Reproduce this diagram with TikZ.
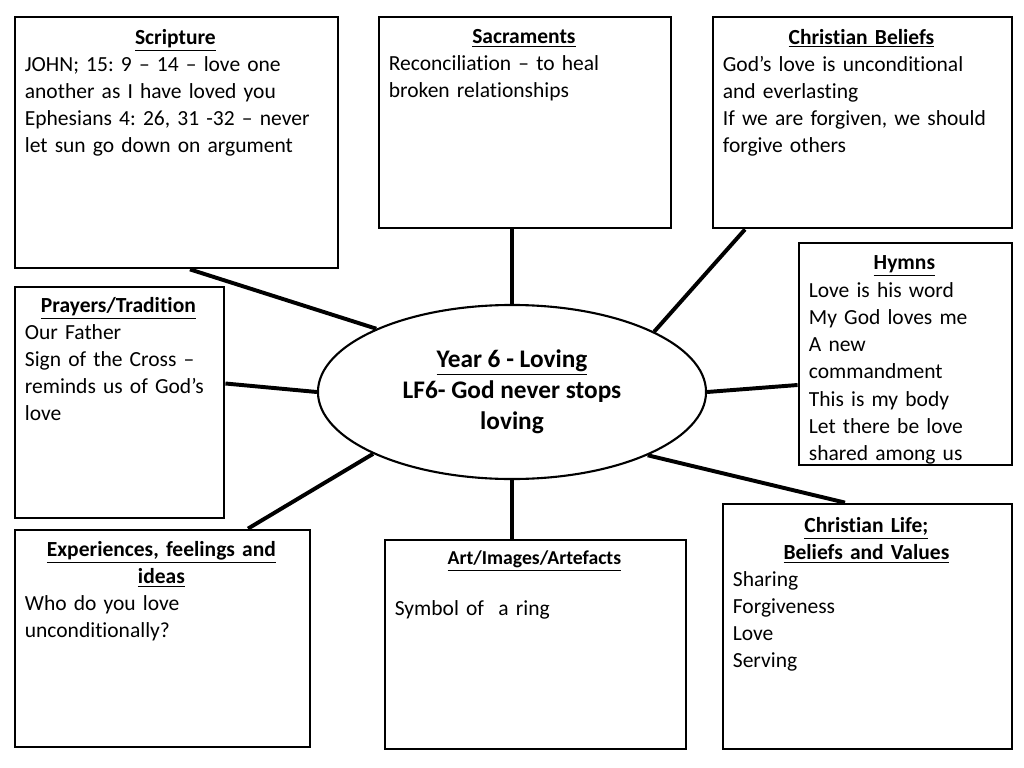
\documentclass[tikz,border=0pt]{standalone}
\usepackage{fontspec}
\setmainfont{Carlito}[Ligatures={TeX,NoCommon}]
\usetikzlibrary{positioning,shapes.geometric,fit}
\newcommand{\heading}[1]{\underline{\textbf{#1}}}
\frenchspacing

\begin{document}
\begin{tikzpicture}[
    x=0.025cm, y=-0.025cm,
    topic/.style={draw, line width=2pt, inner sep=0pt},
    hub/.style={draw, ellipse, line width=1.5pt, minimum width=9.7cm, minimum height=4.35cm, align=center, font=\fontsize{18}{22}\selectfont\bfseries},
    note/.style={anchor=north west, inner sep=0pt, align=left, font=\fontsize{15.3}{19.2}\selectfont},
    link/.style={line width=2.8pt}
  ]
  \useasboundingbox (0,0) rectangle (1024,768);
  % centre
  \node[hub] (loving) at (512,392) {\heading{Year 6 - Loving}\\LF6- God never stops\\loving};
  % topic boxes
  \node[topic, fit={(15,17) (338,268)}] (scripture) {};
  \node[topic, fit={(379,17) (671,228)}] (sacraments) {};
  \node[topic, fit={(713,17) (1012,228)}] (beliefs) {};
  \node[topic, fit={(799,243) (1012,465)}] (hymns) {};
  \node[topic, fit={(15,287) (224,518)}] (prayers) {};
  \node[topic, fit={(15,530) (310,747)}] (experiences) {};
  \node[topic, fit={(385,540) (686,749)}] (art) {};
  \node[topic, fit={(723,504) (1012,749)}] (life) {};
  % texts
  \node[note, text width=7.525cm] (scripturetext) at ([shift={(11,14)}]scripture.north west)
    {{\centering\heading{Scripture}\par}
     JOHN; 15: 9 -- 14 -- love one\\another as I have loved you\\Ephesians 4: 26, 31 -32 -- never\\let sun go down on argument};
  \node[note, text width=6.75cm] (sacramentstext) at ([shift={(11,14)}]sacraments.north west)
    {{\centering\heading{Sacraments}\par}
     Reconciliation -- to heal\\broken relationships};
  \node[note, text width=6.925cm] (beliefstext) at ([shift={(11,13.5)}]beliefs.north west)
    {{\centering\heading{Christian Beliefs}\par}
     God's love is unconditional\\and everlasting\\If we are forgiven, we should\\forgive others};
  \node[note, text width=4.775cm, font=\fontsize{15.3}{19.4}\selectfont] (hymnstext) at ([shift={(11,14)}]hymns.north west)
    {{\centering\heading{Hymns}\par}
     Love is his word\\My God loves me\\A new\\commandment\\This is my body\\Let there be love\\shared among us};
  \node[note, text width=4.675cm] (prayerstext) at ([shift={(11,12)}]prayers.north west)
    {{\centering\heading{Prayers/Tradition}\par}
     Our Father\\Sign of the Cross --\\reminds us of God's\\love};
  \node[note, text width=6.825cm] (experiencestext) at ([shift={(11,13)}]experiences.north west)
    {{\centering\heading{Experiences, feelings and}\\\heading{ideas}\par}
     Who do you love\\unconditionally?};
  \node[note, text width=6.975cm] (arttext) at ([shift={(11,12)}]art.north west)
    {{\centering\fontsize{14}{16}\selectfont\heading{Art/Images/Artefacts}\par}\vspace{17pt}
     Symbol of\ \ a ring};
  \node[note, text width=6.675cm] (lifetext) at ([shift={(11,15)}]life.north west)
    {{\centering\heading{Christian Life;}\\\heading{Beliefs and Values}\par}
     Sharing\\Forgiveness\\Love\\Serving};
  % spokes
  \draw[link] ([shift={(13.5,0)}]scripture.south) -- (loving.155.6);
  \draw[link] ([shift={(-13,0)}]sacraments.south) -- (loving.north);
  \draw[link] ([shift={(-117.5,0)}]beliefs.south) -- (loving.23.5);
  \draw[link] ([shift={(0,31)}]hymns.west) -- (loving.east);
  \draw[link] ([shift={(0,-19)}]prayers.east) -- (loving.west);
  \draw[link] ([shift={(85.5,0)}]experiences.north) -- (loving.204.9);
  \draw[link] ([shift={(-23.5,0)}]art.north) -- (loving.south);
  \draw[link] ([shift={(-22.5,0)}]life.north) -- (loving.-25.2);
\end{tikzpicture}
\end{document}
